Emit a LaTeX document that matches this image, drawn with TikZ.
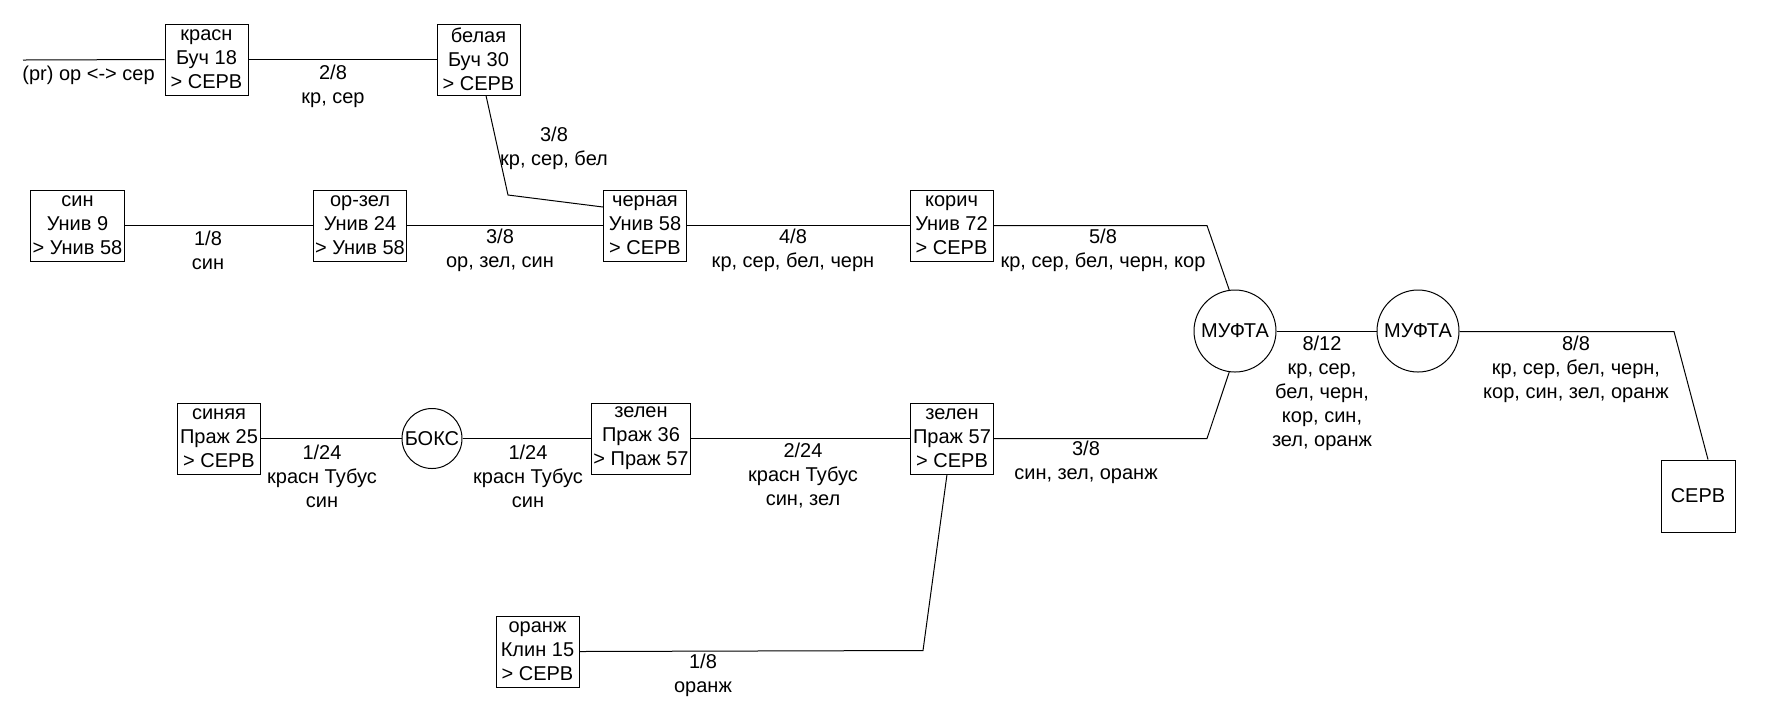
\documentclass[tikz,border=0pt]{standalone}
\usepackage{fontspec}
\setmainfont{Liberation Sans}
\usetikzlibrary{calc}
\begin{document}
\begin{tikzpicture}[x=0.5pt,y=-0.5pt,
  every node/.style={font=\fontsize{10pt}{12pt}\selectfont},
  unit/.style={draw, line width=0.5pt, align=center, inner xsep=1pt, inner ysep=0pt,
               minimum width=41.5pt, minimum height=35.5pt},
  joint/.style={draw, circle, line width=0.5pt, inner sep=0pt, minimum size=41pt},
  boxjoint/.style={draw, circle, line width=0.5pt, inner sep=0pt, minimum size=30pt},
  cable/.style={line width=0.5pt},
  tag/.style={align=center, inner sep=0pt}
]
\useasboundingbox (0,0) rectangle (1766,720);

% --- top row
\node[unit] (krasn)  at (206.5,59.5) {красн\\Буч 18\\> СЕРВ};
\node[unit] (belaya) at (478.5,59.5) {белая\\Буч 30\\> СЕРВ};
\coordinate (feed) at (23,60);
\node[tag, anchor=west] (feedtag) at (22,75) {(pr) ор <-> сер};

% --- second row
\node[unit] (sin)      at (77.5,225.5)  {син\\Унив 9\\> Унив 58};
\node[unit] (orzel)    at (360,225.5)   {ор-зел\\Унив 24\\> Унив 58};
\node[unit] (chernaya) at (645,225.5)   {черная\\Унив 58\\> СЕРВ};
\node[unit] (korich)   at (951.5,225.5) {корич\\Унив 72\\> СЕРВ};

% --- couplings and server
\node[joint] (muf1) at (1235,331) {МУФТА};
\node[joint] (muf2) at (1418,331) {МУФТА};
\node[unit, minimum width=37pt, minimum height=36pt] (serv) at (1698,496) {СЕРВ};

% --- third row
\node[unit] (sinyaya) at (219,438.5) {синяя\\Праж 25\\> СЕРВ};
\node[boxjoint] (boks) at (432,438.5) {БОКС};
\node[unit] (zelen36) at (641,438.5) {зелен\\Праж 36\\> Праж 57};
\node[unit] (zelen57) at (952,438.5) {зелен\\Праж 57\\> СЕРВ};

% --- bottom
\node[unit] (oranzh) at (537.5,651.5) {оранж\\Клин 15\\> СЕРВ};

% --- bend points
\coordinate (b1) at (508,195);
\coordinate (k1) at (1207,225.5);
\coordinate (z1) at (1207,438.5);
\coordinate (m1) at (1674,331.5);
\coordinate (o1) at (923,650.5);

% --- cables
\draw[cable] (feed) -- (krasn.west);
\draw[cable] (krasn) -- (belaya);
\draw[cable] ($(belaya.south)+(7.5,0)$) -- (b1) -- ($(chernaya.west)+(0,-18.5)$);
\draw[cable] (sin) -- (orzel);
\draw[cable] (orzel) -- (chernaya);
\draw[cable] (chernaya) -- (korich);
\draw[cable] (korich.east) -- (k1) -- (muf1.98);
\draw[cable] (zelen57.east) -- (z1) -- (muf1.262);
\draw[cable] ($(muf1.east)+(0,0.5)$) -- ($(muf2.west)+(0,0.5)$);
\draw[cable] ($(muf2.east)+(0,0.5)$) -- (m1) -- ($(serv.north)+(10,0)$);
\draw[cable] (sinyaya) -- (boks);
\draw[cable] (boks) -- (zelen36);
\draw[cable] (zelen36) -- (zelen57);
\draw[cable] (oranzh.east) -- (o1) -- ($(zelen57.south)+(-5,0)$);

% --- cable labels
\node[tag] (t1)  at (333,86)   {2/8\\кр, сер};
\node[tag] (t2)  at (554,148)  {3/8\\кр, сер, бел};
\node[tag] (t3)  at (208,250)  {1/8\\син};
\node[tag] (t4)  at (500,250)  {3/8\\ор, зел, син};
\node[tag] (t5)  at (793,250)  {4/8\\кр, сер, бел, черн};
\node[tag] (t6)  at (1103,250) {5/8\\кр, сер, бел, черн, кор};
\node[tag] (t7)  at (1322,393) {8/12\\кр, сер,\\бел, черн,\\кор, син,\\зел, оранж};
\node[tag] (t8)  at (1576,369) {8/8\\кр, сер, бел, черн,\\кор, син, зел, оранж};
\node[tag] (t9)  at (1086,462) {3/8\\син, зел, оранж};
\node[tag] (t10) at (322,476)  {1/24\\красн Тубус\\син};
\node[tag] (t11) at (528,476)  {1/24\\красн Тубус\\син};
\node[tag] (t12) at (803,476)  {2/24\\красн Тубус\\син, зел};
\node[tag] (t13) at (703,675)  {1/8\\оранж};
\end{tikzpicture}
\end{document}
